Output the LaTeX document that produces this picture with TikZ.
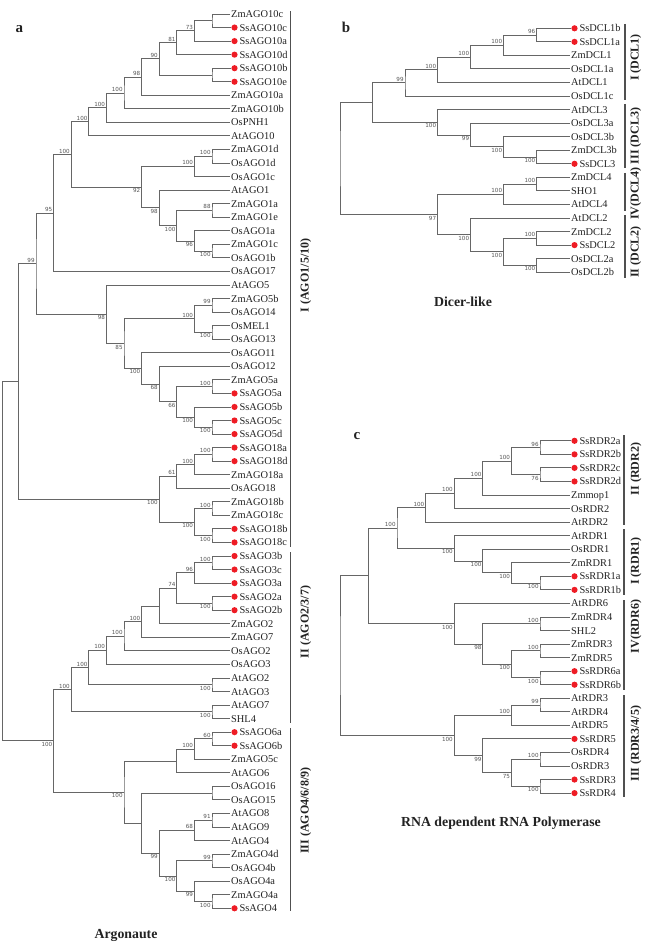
\documentclass[tikz,border=0pt]{standalone}
\usepackage{fontspec}
\setmainfont{Liberation Serif}
\newfontfamily\bootfont{DejaVu Sans}
\usetikzlibrary{calc}

\definecolor{branchcol}{HTML}{666666}
\definecolor{bootcol}{HTML}{555555}
\definecolor{leafcol}{HTML}{222222}
\definecolor{barcol}{HTML}{505050}
\definecolor{ssred}{HTML}{EE1C25}

\tikzset{
  branch/.style={draw=branchcol,line width=0.9pt},
  leaf/.style={font=\fontsize{10.4}{12}\selectfont,text=leafcol,inner sep=1pt,anchor=west,text height=7pt,text depth=0pt},
  ssdot/.style={circle,fill=ssred,inner sep=0pt,minimum size=6.2pt},
  boot/.style={font=\bootfont\fontsize{5.6}{6}\selectfont,text=bootcol,inner sep=1.2pt},
  hi/.style={anchor=south east},
  lo/.style={anchor=north east},
  bar/.style={draw=barcol,line width=1.4pt},
  grp/.style={font=\bfseries\fontsize{12}{14}\selectfont,text=leafcol,rotate=90,inner sep=0pt},
  title/.style={font=\bfseries\fontsize{13.8}{16}\selectfont,text=leafcol},
  panel/.style={font=\bfseries\fontsize{15}{17}\selectfont,text=leafcol},
}

% leaves: prefix, x, first y, list of name/flag (1 = red dot)
\newcommand{\drawleaves}[4]{%
  \foreach \leafname/\flag [count=\i] in {#4} {
    \pgfmathsetmacro{\yy}{#3+(\i-1)*13.55}
    \ifnum\flag=1
      \node[ssdot,label={[leaf,name=#1\i t,inner sep=1.5pt]right:\leafname}] (#1\i) at (#2+4.5,\yy) {};
    \else
      \node[leaf] (#1\i) at (#2,\yy) {\leafname};
    \fi
  }}

% clade: name, x, upper child, lower child, bootstrap, hi/lo
\newcommand{\clade}[6]{%
  \path let \p1=(#3), \p2=(#4) in coordinate (#1) at (#2pt,{0.5*\y1+0.5*\y2});
  \draw[branch] (#3) -| (#1) |- (#4);
  \if\relax\detokenize{#5}\relax\else
    \node[boot,#6] (#1b) at (#1) {#5};
  \fi}

% group bar: name, x, top, bottom, label x, label y, text
\newcommand{\cladebar}[7]{%
  \draw[bar] (#2,#3) -- (#2,#4);
  \node[grp] (#1) at (#5,#6) {#7};}

\begin{document}
\begin{tikzpicture}[x=1pt,y=-1pt]
\useasboundingbox (0,0) rectangle (646,944);

% ---------- a: Argonaute ----------
\drawleaves{a}{230}{14}{ZmAGO10c/0, SsAGO10c/1, SsAGO10a/1, SsAGO10d/1, SsAGO10b/1, SsAGO10e/1, ZmAGO10a/0, ZmAGO10b/0, OsPNH1/0, AtAGO10/0, ZmAGO1d/0, OsAGO1d/0, OsAGO1c/0, AtAGO1/0, ZmAGO1a/0, ZmAGO1e/0, OsAGO1a/0, ZmAGO1c/0, OsAGO1b/0, OsAGO17/0, AtAGO5/0, ZmAGO5b/0, OsAGO14/0, OsMEL1/0, OsAGO13/0, OsAGO11/0, OsAGO12/0, ZmAGO5a/0, SsAGO5a/1, SsAGO5b/1, SsAGO5c/1, SsAGO5d/1, SsAGO18a/1, SsAGO18d/1, ZmAGO18a/0, OsAGO18/0, ZmAGO18b/0, ZmAGO18c/0, SsAGO18b/1, SsAGO18c/1, SsAGO3b/1, SsAGO3c/1, SsAGO3a/1, SsAGO2a/1, SsAGO2b/1, ZmAGO2/0, ZmAGO7/0, OsAGO2/0, OsAGO3/0, AtAGO2/0, AtAGO3/0, AtAGO7/0, SHL4/0, SsAGO6a/1, SsAGO6b/1, ZmAGO5c/0, AtAGO6/0, OsAGO16/0, OsAGO15/0, AtAGO8/0, AtAGO9/0, AtAGO4/0, ZmAGO4d/0, OsAGO4b/0, OsAGO4a/0, ZmAGO4a/0, SsAGO4/1}

\clade{aA1}{212}{a1}{a2}{}{hi}
\clade{aA2}{194.4}{aA1}{a3}{73}{hi}
\clade{aA3}{176.8}{aA2}{a4}{81}{hi}
\clade{aA4}{212}{a5}{a6}{}{lo}
\clade{aA5}{159.2}{aA3}{aA4}{90}{hi}
\clade{aA6}{141.6}{aA5}{a7}{98}{hi}
\clade{aA7}{124}{aA6}{a8}{100}{hi}
\clade{aA8}{106.4}{aA7}{a9}{100}{hi}
\clade{aA9}{88.8}{aA8}{a10}{100}{hi}
\clade{aB1}{212}{a11}{a12}{100}{hi}
\clade{aB2}{194.4}{aB1}{a13}{100}{hi}
\clade{aB3}{212}{a15}{a16}{88}{hi}
\clade{aB4}{212}{a18}{a19}{100}{lo}
\clade{aB5}{194.4}{a17}{aB4}{96}{lo}
\clade{aB6}{176.8}{aB3}{aB5}{100}{lo}
\clade{aB7}{159.2}{a14}{aB6}{98}{lo}
\clade{aB8}{141.6}{aB2}{aB7}{92}{lo}
\clade{aC1}{71.2}{aA9}{aB8}{100}{hi}
\clade{aC2}{53.6}{aC1}{a20}{95}{hi}
\clade{aD1}{212}{a22}{a23}{99}{hi}
\clade{aD2}{212}{a24}{a25}{100}{lo}
\clade{aD3}{194.4}{aD1}{aD2}{100}{hi}
\clade{aD4}{212}{a28}{a29}{100}{hi}
\clade{aD5}{212}{a31}{a32}{100}{lo}
\clade{aD6}{194.4}{a30}{aD5}{100}{lo}
\clade{aD7}{176.8}{aD4}{aD6}{66}{lo}
\clade{aD8}{159.2}{a27}{aD7}{68}{lo}
\clade{aD9}{141.6}{a26}{aD8}{100}{lo}
\clade{aD10}{124}{aD3}{aD9}{85}{lo}
\clade{aD11}{106.4}{a21}{aD10}{98}{lo}
\clade{aE1}{36}{aC2}{aD11}{99}{hi}
\clade{aG1}{212}{a33}{a34}{100}{hi}
\clade{aG2}{194.4}{aG1}{a35}{100}{hi}
\clade{aG3}{176.8}{aG2}{a36}{61}{hi}
\clade{aG4}{212}{a37}{a38}{100}{hi}
\clade{aG5}{212}{a39}{a40}{100}{lo}
\clade{aG6}{194.4}{aG4}{aG5}{100}{lo}
\clade{aG7}{159.2}{aG3}{aG6}{100}{lo}
\clade{aF}{18.4}{aE1}{aG7}{}{hi}
% AGO2/3/7
\clade{aH1}{212}{a41}{a42}{100}{hi}
\clade{aH2}{194.4}{aH1}{a43}{96}{hi}
\clade{aH3}{212}{a44}{a45}{100}{lo}
\clade{aH4}{176.8}{aH2}{aH3}{74}{hi}
\clade{aH5}{159.2}{aH4}{a46}{}{hi}
\clade{aH6}{141.6}{aH5}{a47}{100}{hi}
\clade{aH7}{124}{aH6}{a48}{100}{hi}
\clade{aH8}{106.4}{aH7}{a49}{100}{hi}
\clade{aH9}{212}{a50}{a51}{100}{lo}
\clade{aH10}{88.8}{aH8}{aH9}{100}{hi}
\clade{aH11}{212}{a52}{a53}{100}{lo}
\clade{aH12}{71.2}{aH10}{aH11}{100}{hi}
% AGO4/6/8/9
\clade{aJ1}{212}{a54}{a55}{60}{hi}
\clade{aJ2}{194.4}{aJ1}{a56}{100}{hi}
\clade{aJ3}{176.8}{aJ2}{a57}{}{hi}
\clade{aK1}{212}{a58}{a59}{}{hi}
\clade{aL1}{212}{a60}{a61}{91}{hi}
\clade{aL2}{194.4}{aL1}{a62}{68}{hi}
\clade{aL3}{212}{a63}{a64}{99}{hi}
\clade{aL4}{212}{a66}{a67}{100}{lo}
\clade{aL5}{194.4}{a65}{aL4}{99}{lo}
\clade{aL6}{176.8}{aL3}{aL5}{100}{lo}
\clade{aL7}{159.2}{aL2}{aL6}{99}{lo}
\clade{aL8}{141.6}{aK1}{aL7}{}{lo}
\clade{aM}{124}{aJ3}{aL8}{100}{lo}
\clade{aI}{53.6}{aH12}{aM}{100}{lo}
\clade{aR}{2.8}{aF}{aI}{}{hi}

\cladebar{agoI}{290.5}{11.5}{547}{305.8}{275.5}{I (AGO1/5/10)}
\cladebar{agoII}{290.5}{552}{723}{305.8}{622}{II (AGO2/3/7)}
\cladebar{agoIII}{290.5}{728}{910.5}{305.8}{810.5}{III (AGO4/6/8/9)}

\node[panel] (pa) at (19.5,29.5) {a};
\node[title] (argo) at (126,935.5) {Argonaute};

% ---------- b: Dicer-like ----------
\drawleaves{b}{570}{28.3}{SsDCL1b/1, SsDCL1a/1, ZmDCL1/0, OsDCL1a/0, AtDCL1/0, OsDCL1c/0, AtDCL3/0, OsDCL3a/0, OsDCL3b/0, ZmDCL3b/0, SsDCL3/1, ZmDCL4/0, SHO1/0, AtDCL4/0, AtDCL2/0, ZmDCL2/0, SsDCL2/1, OsDCL2a/0, OsDCL2b/0}

\clade{bP1}{536.7}{b1}{b2}{96}{hi}
\clade{bP2}{503.5}{bP1}{b3}{100}{hi}
\clade{bP3}{470.5}{bP2}{b4}{100}{hi}
\clade{bP4}{437.5}{bP3}{b5}{100}{hi}
\clade{bP5}{405}{bP4}{b6}{99}{hi}
\clade{bQ1}{536.7}{b10}{b11}{100}{lo}
\clade{bQ2}{503.5}{b9}{bQ1}{100}{lo}
\clade{bQ3}{470.5}{b8}{bQ2}{99}{lo}
\clade{bQ4}{437.5}{b7}{bQ3}{100}{lo}
\clade{bS}{372.5}{bP5}{bQ4}{}{hi}
\clade{bT1}{536.7}{b12}{b13}{100}{hi}
\clade{bT2}{503.5}{bT1}{b14}{100}{hi}
\clade{bU2}{536.7}{b16}{b17}{100}{hi}
\clade{bU1}{536.7}{b18}{b19}{100}{lo}
\clade{bU3}{503.5}{bU2}{bU1}{100}{lo}
\clade{bU4}{470.5}{b15}{bU3}{100}{lo}
\clade{bV}{437.5}{bT2}{bU4}{97}{lo}
\clade{bW}{340}{bS}{bV}{}{hi}

\cladebar{dclI}{625}{24}{100.5}{635.8}{57.5}{I (DCL1)}
\cladebar{dclIII}{625}{104}{168}{635.8}{136}{III (DCL3)}
\cladebar{dclIV}{625}{173}{211}{635.8}{193.5}{IV(DCL4)}
\cladebar{dclII}{625}{215}{277.5}{635.8}{252}{II (DCL2)}

\node[panel] (pb) at (346,27.5) {b};
\node[title] (dicer) at (463,301.5) {Dicer-like};

% ---------- c: RNA dependent RNA polymerase ----------
\drawleaves{c}{570}{440.8}{SsRDR2a/1, SsRDR2b/1, SsRDR2c/1, SsRDR2d/1, Zmmop1/0, OsRDR2/0, AtRDR2/0, AtRDR1/0, OsRDR1/0, ZmRDR1/0, SsRDR1a/1, SsRDR1b/1, AtRDR6/0, ZmRDR4/0, SHL2/0, ZmRDR3/0, ZmRDR5/0, SsRDR6a/1, SsRDR6b/1, AtRDR3/0, AtRDR4/0, AtRDR5/0, SsRDR5/1, OsRDR4/0, OsRDR3/0, SsRDR3/1, SsRDR4/1}

\clade{cA1}{540}{c1}{c2}{96}{hi}
\clade{cA2}{540}{c3}{c4}{76}{lo}
\clade{cA3}{511.4}{cA1}{cA2}{100}{hi}
\clade{cA4}{482.8}{cA3}{c5}{100}{hi}
\clade{cA5}{454.2}{cA4}{c6}{100}{hi}
\clade{cA6}{425.6}{cA5}{c7}{100}{hi}
\clade{cB1}{540}{c11}{c12}{100}{lo}
\clade{cB2}{511.4}{c10}{cB1}{100}{lo}
\clade{cB3}{482.8}{c9}{cB2}{100}{lo}
\clade{cB4}{454.2}{c8}{cB3}{100}{lo}
\clade{cB5}{397}{cA6}{cB4}{100}{hi}
\clade{cD1}{540}{c14}{c15}{100}{hi}
\clade{cD2}{540}{c16}{c17}{100}{hi}
\clade{cD3}{540}{c18}{c19}{100}{lo}
\clade{cD4}{511.4}{cD2}{cD3}{100}{lo}
\clade{cD5}{482.8}{cD1}{cD4}{98}{lo}
\clade{cD6}{454.2}{c13}{cD5}{100}{lo}
\clade{cE}{368.4}{cB5}{cD6}{}{hi}
\clade{cF1}{540}{c20}{c21}{99}{hi}
\clade{cF2}{511.4}{cF1}{c22}{100}{hi}
\clade{cF4}{540}{c24}{c25}{100}{hi}
\clade{cF3}{540}{c26}{c27}{100}{lo}
\clade{cF5}{511.4}{cF4}{cF3}{75}{lo}
\clade{cF6}{482.8}{c23}{cF5}{99}{lo}
\clade{cF7}{454.2}{cF2}{cF6}{100}{lo}
\clade{cR}{340}{cE}{cF7}{}{hi}

\cladebar{rdrII}{624}{435}{525}{636}{469}{II (RDR2)}
\cladebar{rdrI}{624}{529}{595}{636}{561}{I (RDR1)}
\cladebar{rdrIV}{624}{600}{690}{636}{626.5}{IV(RDR6)}
\cladebar{rdrIII}{624}{695}{797}{636}{743.5}{III (RDR3/4/5)}

\node[panel] (pc) at (357,436.3) {c};
\node[title] (rdrp) at (501,823) {RNA dependent RNA Polymerase};
\end{tikzpicture}
\end{document}
